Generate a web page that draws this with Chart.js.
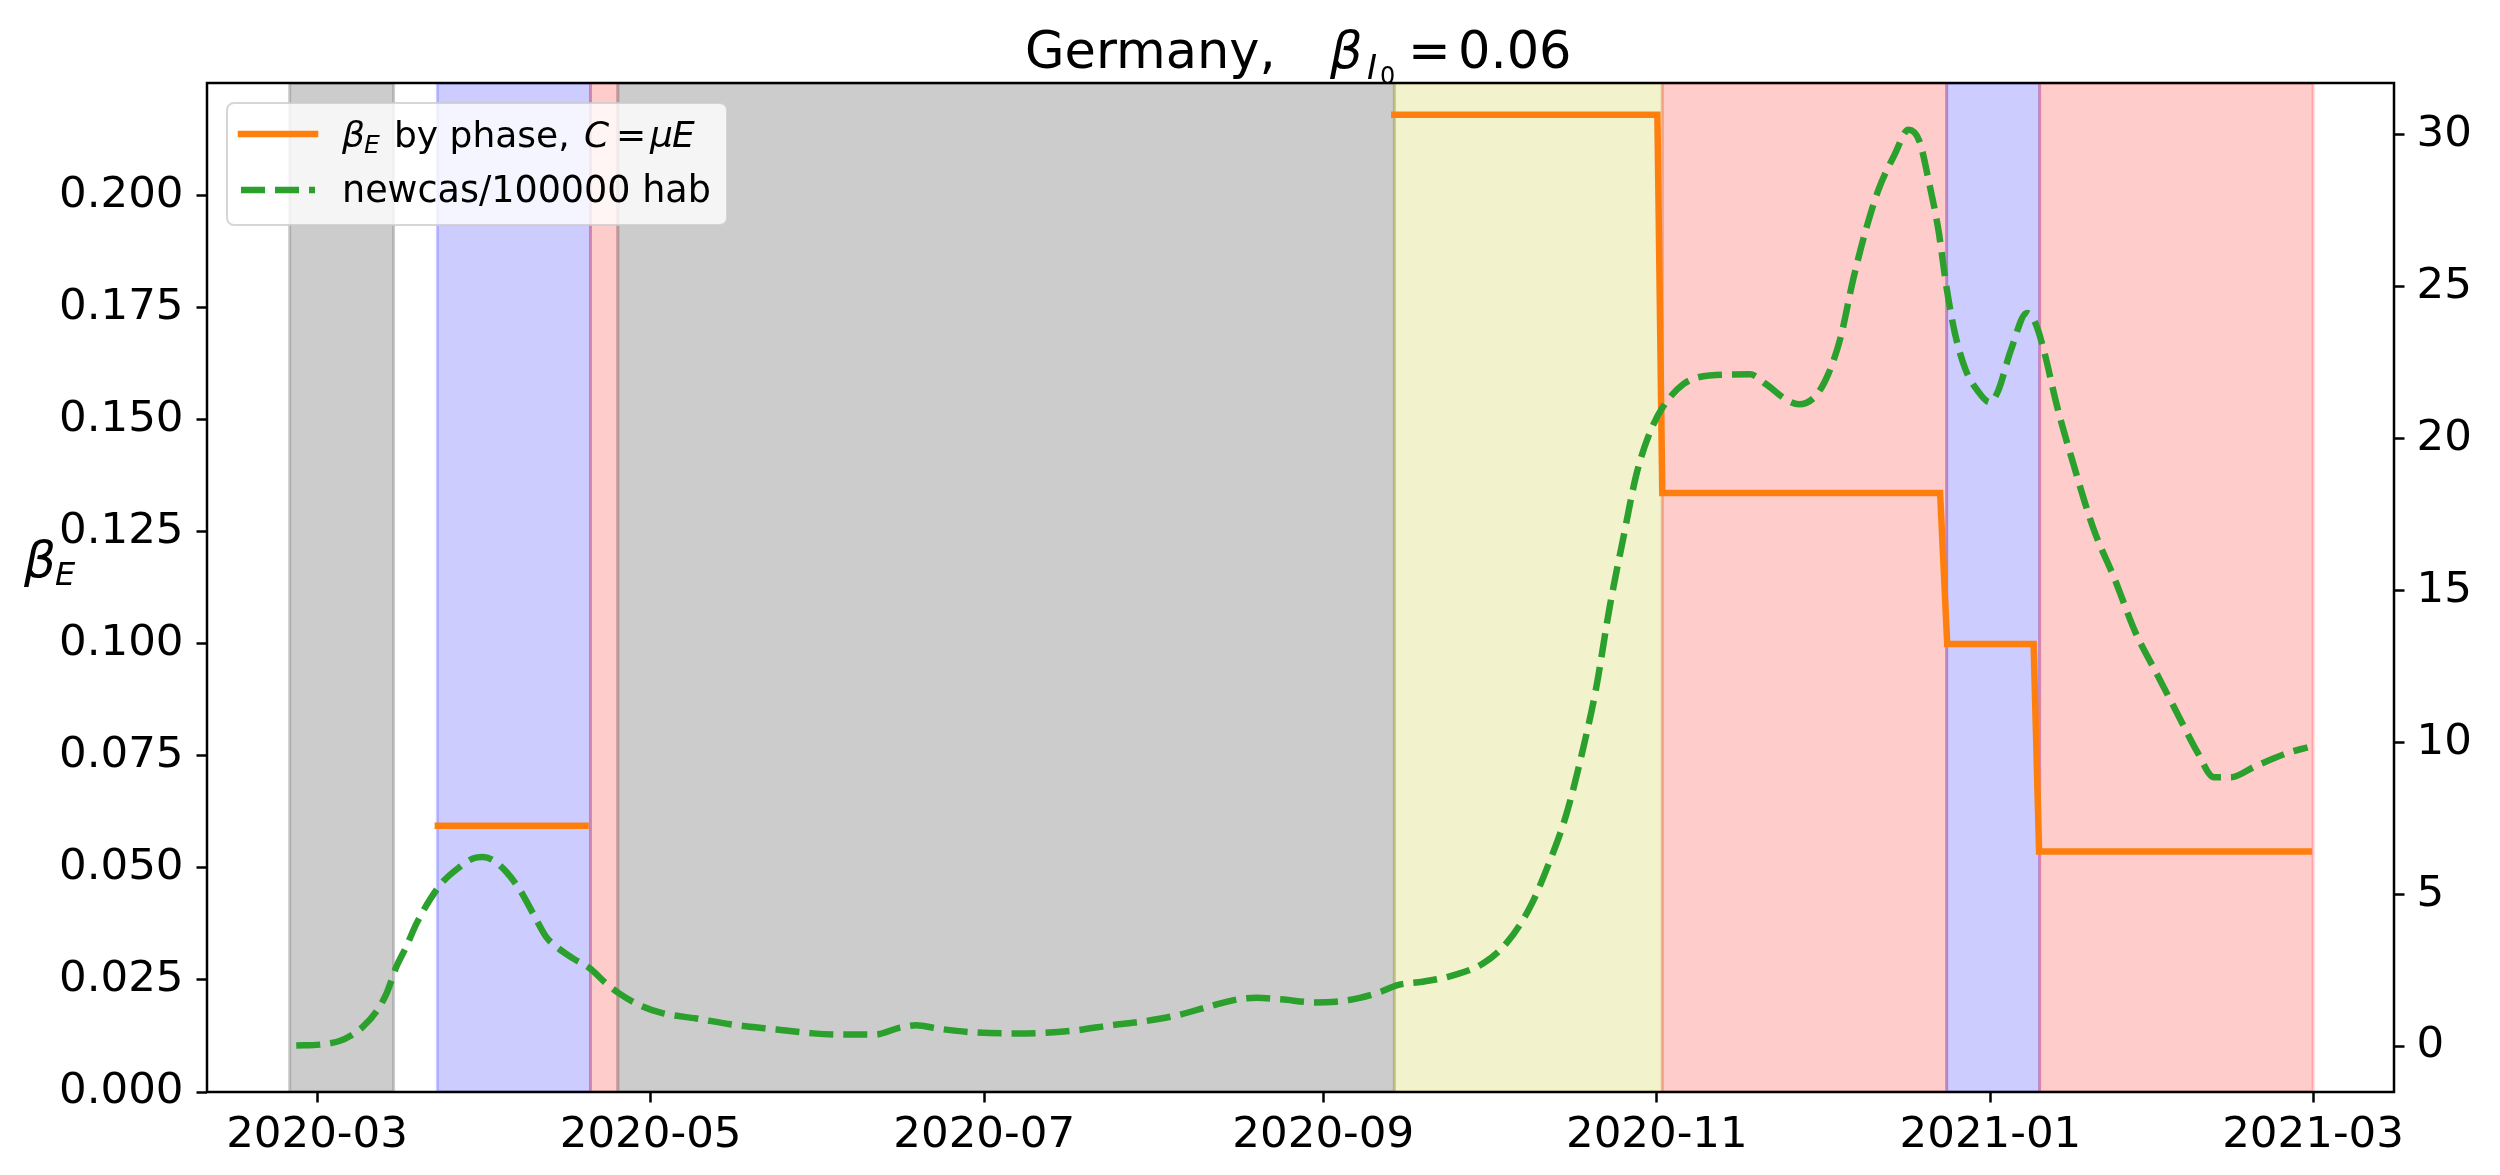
<!DOCTYPE html>
<html><head><meta charset="utf-8">
<script src="https://cdn.jsdelivr.net/npm/chart.js@4.4.1/dist/chart.umd.min.js"></script>
<style>html,body{margin:0;padding:0;background:#fff;}canvas{display:block;}</style>
</head><body>
<canvas id="c" width="2500" height="1175" style="width:2500px;height:1175px"></canvas>
<script>
// ---------- DATA ----------
const ORIGIN = '2020-03-01';            // day 0 of the x axis
function dayOf(s){ return (Date.parse(s+'T00:00:00Z') - Date.parse(ORIGIN+'T00:00:00Z'))/86400000; }

const xTickLabels = ['2020-03','2020-05','2020-07','2020-09','2020-11','2021-01','2021-03'];
const yLeftTicks  = [0, 0.025, 0.05, 0.075, 0.1, 0.125, 0.15, 0.175, 0.2];
const yRightTicks = [0, 5, 10, 15, 20, 25, 30];

// phases (shaded spans)
const phaseStart = ['2020-02-25','2020-03-23','2020-04-20','2020-04-25','2020-09-14','2020-11-02','2020-12-24','2021-01-10'];
const phaseEnd   = ['2020-03-15','2020-04-20','2020-04-25','2020-09-14','2020-11-02','2020-12-24','2021-01-10','2021-03-01'];
const phaseType  = ['gray','blue','red','gray','yellow','red','blue','red'];

// beta_E by phase (left axis); null breaks the line
const betaDays   = [22.1, 49.1, 50, 197.0, 245.1, 246.0, 296.8, 298.1, 313.9, 314.9, 364.2];
const betaValues = [0.0594, 0.0594, null, 0.2181, 0.2181, 0.1337, 0.1337, 0.1000, 0.1000, 0.0537, 0.0537];

// new cases per 100000 inhabitants (right axis), day offsets from 2020-03-01
const caseDays = [-3.8,0.5,4.1,6.3,8.4,10.8,12.7,14.5,16.3,18.2,20.6,23.0,26.1,28.5,30.3,32.2,34.6,37.1,39.5,41.9,43.8,46.8,49.9,52.9,55.3,59.0,63.3,69.4,75.5,84.0,
  90.7,96.0,102.0,106.6,109.6,113.4,119.5,127.1,133.1,139.2,145.3,151.3,157.4,163.4,168.7,171.8,176.3,182.4,186.2,190.7,194.5,197.6,202.1,207.1,213.2,217.5,221.8,225.4,228.4,231.5,
  233.9,236.4,238.8,241.3,243.7,246.1,249.8,254.6,262.0,265.0,268.8,271.0,274.1,276.4,278.6,280.9,283.2,285.5,288.5,291.0,293.0,294.9,296.5,298.0,299.5,301.4,303.7,305.9,307.4,
  309.7,312.7,314.3,315.8,318.1,321.1,324.9,328.7,332.5,336.3,340.1,343.9,346.9,349.9,354.5,360.5,364.0];
const caseValues = [0.02,0.05,0.17,0.36,0.64,1.13,1.73,2.61,3.27,4.04,4.81,5.41,5.90,6.18,6.23,6.12,5.74,5.14,4.37,3.60,3.27,2.89,2.56,2.06,1.73,1.35,1.08,0.91,0.72,0.55,
  0.42,0.38,0.38,0.61,0.69,0.58,0.46,0.42,0.44,0.53,0.69,0.82,1.02,1.32,1.55,1.59,1.54,1.44,1.46,1.59,1.79,2.01,2.12,2.30,2.72,3.39,4.57,6.08,7.60,9.78,
  11.79,14.48,16.67,18.85,20.19,21.04,21.79,22.08,22.12,21.79,21.27,21.13,21.42,22.15,23.33,25.24,26.86,28.18,29.36,30.17,29.80,28.33,26.86,24.95,23.48,22.30,21.57,21.20,21.57,
  22.89,24.14,23.77,22.89,21.13,19.21,17.01,15.39,13.63,12.30,10.98,9.66,8.85,8.85,9.22,9.66,9.84];

// ---------- STYLE ----------
const FONT = '"DejaVu Sans"';
const LW = 6.5;
const phaseFill = { gray:'rgba(128,128,128,0.4)', blue:'rgba(0,0,255,0.2)', red:'rgba(255,0,0,0.2)', yellow:'rgba(191,191,0,0.2)' };

const spanPlugin = {
  id:'spans',
  beforeDatasetsDraw(chart){
    const {ctx, chartArea:a, scales:{x}} = chart;
    ctx.save();
    ctx.beginPath(); ctx.rect(a.left, a.top, a.right-a.left, a.bottom-a.top); ctx.clip();
    phaseStart.forEach((s,i)=>{
      const x1 = x.getPixelForValue(dayOf(s)), x2 = x.getPixelForValue(dayOf(phaseEnd[i]));
      ctx.fillStyle = phaseFill[phaseType[i]];
      ctx.fillRect(x1, a.top, x2-x1, a.bottom-a.top);
      ctx.strokeStyle = phaseFill[phaseType[i]];
      ctx.lineWidth = 3;
      ctx.strokeRect(x1, a.top, x2-x1, a.bottom-a.top);
    });
    ctx.restore();
  }
};

const decorPlugin = {
  id:'decor',
  afterDraw(chart){
    const {ctx, chartArea:a} = chart;
    ctx.save();
    // frame
    ctx.strokeStyle = '#000'; ctx.lineWidth = 2.5;
    ctx.strokeRect(a.left, a.top, a.right-a.left, a.bottom-a.top);
    ctx.fillStyle = '#000'; ctx.textBaseline = 'alphabetic'; ctx.textAlign = 'left';
    // title
    ctx.font = `51px ${FONT}`; ctx.fillText('Germany,', 1025, 68);
    ctx.font = `italic 51px ${FONT}`; ctx.fillText('β', 1330, 68);
    ctx.font = `italic 34px ${FONT}`; ctx.fillText('I', 1367, 79);
    ctx.font = `24px ${FONT}`; ctx.fillText('0', 1380, 84);
    ctx.font = `51px ${FONT}`; ctx.fillText('=', 1408, 68); ctx.fillText('0.06', 1458, 68);
    // y label
    ctx.font = `italic 50px ${FONT}`; ctx.fillText('β', 24, 577);
    ctx.font = `italic 32px ${FONT}`; ctx.fillText('E', 55, 585);
    // legend box
    ctx.beginPath();
    ctx.roundRect(227, 103, 500, 122, 7);
    ctx.fillStyle = 'rgba(255,255,255,0.8)'; ctx.fill();
    ctx.strokeStyle = 'rgba(204,204,204,0.8)'; ctx.lineWidth = 2; ctx.stroke();
    // handles
    ctx.lineWidth = LW;
    ctx.strokeStyle = '#ff7f0e'; ctx.lineCap = 'square'; ctx.setLineDash([]);
    ctx.beginPath(); ctx.moveTo(241, 134); ctx.lineTo(315, 134); ctx.stroke();
    ctx.strokeStyle = '#2ca02c'; ctx.lineCap = 'butt'; ctx.setLineDash([24,10]);
    ctx.beginPath(); ctx.moveTo(241, 190); ctx.lineTo(315, 190); ctx.stroke();
    ctx.setLineDash([]);
    // legend text
    ctx.fillStyle = '#000';
    ctx.font = `italic 36px ${FONT}`; ctx.fillText('β', 342, 147);
    ctx.font = `italic 25px ${FONT}`; ctx.fillText('E', 364, 153);
    ctx.font = `36px ${FONT}`; ctx.fillText('by phase,', 394, 147);
    ctx.font = `italic 36px ${FONT}`; ctx.fillText('C', 584, 147);
    ctx.font = `36px ${FONT}`; ctx.fillText('=', 616, 147);
    ctx.font = `italic 36px ${FONT}`; ctx.fillText('μ', 650, 147); ctx.fillText('E', 672, 147);
    ctx.font = `36.5px ${FONT}`; ctx.fillText('newcas/100000 hab', 342, 202);
    ctx.restore();
  }
};

const tickFont = { family: 'DejaVu Sans', size: 43.5 };
const gridOpts = { display:true, drawOnChartArea:false, drawTicks:true, tickLength:10.5, tickWidth:2.5, tickColor:'#000' };

new Chart(document.getElementById('c'), {
  type:'line',
  data:{ datasets:[
    { label:'newcas/100000 hab', yAxisID:'y2', order:0,
      data: caseDays.map((d,i)=>({x:d, y:caseValues[i]})),
      borderColor:'#2ca02c', borderWidth:LW, borderDash:[24,10], borderCapStyle:'butt',
      pointRadius:0, fill:false, cubicInterpolationMode:'monotone' },
    { label:'beta_E by phase', yAxisID:'y', order:1,
      data: betaDays.map((d,i)=>({x:d, y:betaValues[i]})),
      borderColor:'#ff7f0e', borderWidth:LW, borderCapStyle:'square', borderJoinStyle:'miter',
      pointRadius:0, fill:false, tension:0, spanGaps:false }
  ]},
  options:{
    responsive:false, animation:false, devicePixelRatio:1,
    layout:{ padding:{ top:83, left:0, right:0, bottom:0 } },
    plugins:{ legend:{display:false}, tooltip:{enabled:false}, title:{display:false} },
    scales:{
      x:{ type:'linear', position:'bottom', bounds:'data', min:-20.12, max:379.8,
        afterBuildTicks(s){ s.ticks = xTickLabels.map(l=>({value:dayOf(l+'-01')})); },
        afterFit(s){ s.height = 83; },
        ticks:{ callback:(v,i)=>xTickLabels[i], font:tickFont, color:'#000', maxRotation:0, autoSkip:false, padding:7 },
        grid:gridOpts, border:{display:false} },
      y:{ type:'linear', position:'left', bounds:'data', min:0, max:0.2252,
        afterBuildTicks(s){ s.ticks = yLeftTicks.map(v=>({value:v})); },
        afterFit(s){ s.width = 207; },
        ticks:{ callback:v=>v.toFixed(3), font:tickFont, color:'#000', padding:13 },
        grid:gridOpts, border:{display:false} },
      y2:{ type:'linear', position:'right', bounds:'data', min:-1.51, max:31.71,
        afterBuildTicks(s){ s.ticks = yRightTicks.map(v=>({value:v})); },
        afterFit(s){ s.width = 106; },
        ticks:{ callback:v=>String(v), font:tickFont, color:'#000', padding:12 },
        grid:gridOpts, border:{display:false} }
    }
  },
  plugins:[spanPlugin, decorPlugin]
});
</script>
</body></html>
